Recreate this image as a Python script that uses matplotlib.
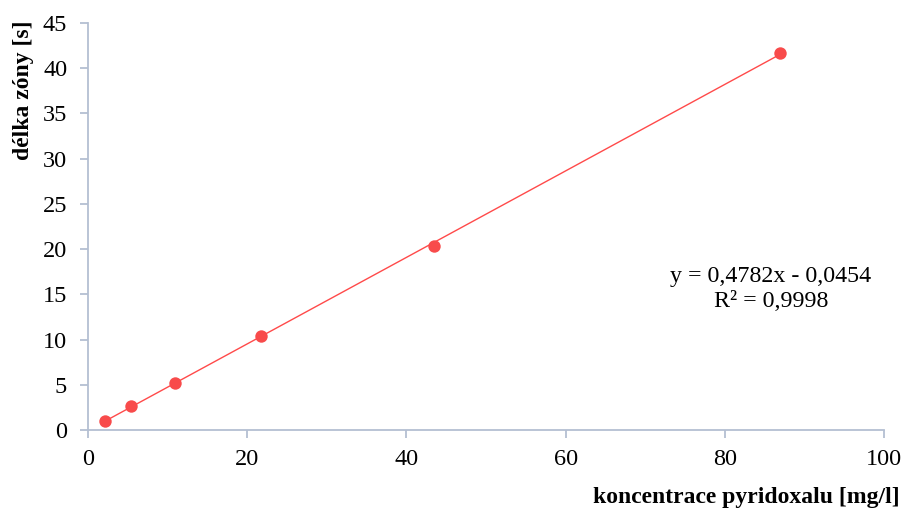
import matplotlib
matplotlib.use("Agg")
import matplotlib.pyplot as plt
import numpy as np

# Measured zone length vs. pyridoxal concentration
concentration = [2.17, 5.43, 10.87, 21.73, 43.47, 86.93]
zone_length = [1.05, 2.6, 5.25, 10.4, 20.3, 41.65]

# Linear fit shown on the chart
slope = 0.4782
intercept = -0.0454
r_squared = "0,9998"

x_ticks = [0, 20, 40, 60, 80, 100]
y_ticks = [0, 5, 10, 15, 20, 25, 30, 35, 40, 45]

plt.rcParams['font.family'] = ['Liberation Serif', 'DejaVu Serif']

fig = plt.figure(figsize=(9.06, 5.13), dpi=100)
ax = fig.add_axes([88 / 906, 1 - 430 / 513, (884 - 88) / 906, (430 - 23) / 513])

red = '#F84B4B'
axis_col = '#B4BFD2'

fit_x = np.array([min(concentration), max(concentration)])
ax.plot(fit_x, slope * fit_x + intercept, color='#FF4A4A', lw=1.0, zorder=2)
ax.scatter(concentration, zone_length, s=80, color=red, zorder=3, linewidths=0)

ax.set_xlim(0, 100)
ax.set_ylim(0, 45)
ax.set_xticks(x_ticks)
ax.set_yticks(y_ticks)
ax.tick_params(axis='both', direction='out', length=6, width=1.3, color=axis_col,
               labelsize=17.5)
ax.tick_params(axis='y', pad=9)
ax.tick_params(axis='x', pad=8)
for side in ('top', 'right'):
    ax.spines[side].set_visible(False)
for side in ('left', 'bottom'):
    ax.spines[side].set_color(axis_col)
    ax.spines[side].set_linewidth(1.3)

fig.text(900 / 906, 1 - 497 / 513, 'koncentrace pyridoxalu [mg/l]', ha='right', va='center',
         fontsize=17, fontweight='bold')
fig.text(23 / 906, 1 - 90 / 513, 'délka zóny [s]', ha='center', va='center', rotation=90,
         fontsize=17, fontweight='bold')

ax.text(771 / 906, 1 - 289 / 513,
        f'y = {str(slope).replace(".", ",")}x - {str(-intercept).replace(".", ",")}\nR² = {r_squared}',
        transform=fig.transFigure, ha='center', va='center', fontsize=17.3, linespacing=1.3)

fig.savefig('out.png', dpi=100)
